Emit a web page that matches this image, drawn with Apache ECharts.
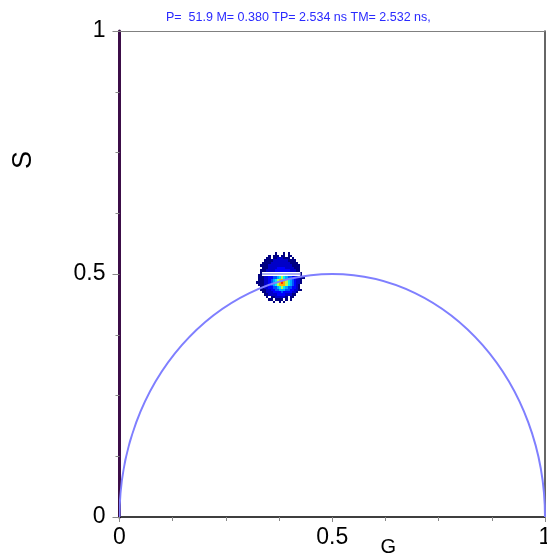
<!DOCTYPE html>
<html>
<head>
<meta charset="utf-8">
<script src="https://cdn.jsdelivr.net/npm/echarts@6/dist/echarts.min.js"></script>
<style>
  html, body { margin: 0; padding: 0; background: #fff; }
  #chart { width: 547px; height: 555px; }
</style>
</head>
<body>
<div id="chart"></div>
<script>
// Phasor plot: G / S coordinates with the universal semicircle and a 2D histogram of pixel phasors.
const titleText = 'P=  51.9 M= 0.380 TP= 2.534 ns TM= 2.532 ns,';
const gRange = [0, 1];
const sRange = [0, 1];
const tickStep = 0.5;

// Universal semicircle (centre and radius in phasor units)
const circleCenter = [0.5, 0];
const circleRadius = 0.5;

// Histogram bins of the phasor cluster: one string per S row (top row first),
// one character per G column; '.' = empty, 1..9 = count level.
const clusterG0 = 0.32;
const clusterSTop = 0.545;
const clusterBin = 0.005;
const clusterRows = [
  '.........1...1.1........',
  '......1.111.11.11.......',
  '.....11.11222111.1......',
  '....111122222221111.....',
  '...11112222222221111....',
  '..1111222222222221111...',
  '...111222233332222111...',
  '..1112222333333322211...',
  '..11122233344433322211..',
  '.111222334455544332211..',
  '.1112233445676544332211.',
  '.111223456788876543221..',
  '1111223456789876543221..',
  '.11122345678887654321...',
  '..1122334456765443321...',
  '..11122334455544332211..',
  '...11222333343333221....',
  '....112222333322211.....',
  '.....1.11222221.11......',
  '......11.1111.1.1.......',
  '........1..1.1..........'
];

// Empty row of bins at S = 0.5 across the cluster
const gapLine = [[0.335, 0.5], [0.425, 0.5]];

const levelColors = ['#ffffff', '#000080', '#0000c8', '#0000ff', '#0050ff',
                     '#00a8ff', '#00f0f0', '#b0ff50', '#ffb000', '#ff3000'];

const clusterData = [];
clusterRows.forEach(function (row, j) {
  for (let i = 0; i < row.length; i++) {
    const ch = row[i];
    if (ch === '.') continue;
    clusterData.push([clusterG0 + i * clusterBin, clusterSTop - (j + 1) * clusterBin, +ch]);
  }
});

const font = 'Liberation Sans, Arial, sans-serif';
const chart = echarts.init(document.getElementById('chart'), null, { renderer: 'canvas' });

chart.setOption({
  animation: false,
  backgroundColor: '#ffffff',
  title: {
    text: titleText,
    left: 166,
    top: 11,
    padding: 0,
    textStyle: { color: '#2a2aff', fontSize: 12.5, fontWeight: 'normal', fontFamily: font }
  },
  grid: { left: 119.5, right: 2, top: 31, bottom: 38, containLabel: false, outerBoundsMode: 'none' },
  xAxis: [{
    type: 'value',
    min: gRange[0], max: gRange[1], interval: tickStep,
    name: 'G',
    nameLocation: 'middle',
    nameGap: 20,
    nameMoveOverlap: false,
    nameTextStyle: { fontSize: 20, color: '#000', fontFamily: font, padding: [0, 0, 0, 112] },
    axisLine: { show: true, onZero: false, lineStyle: { color: '#000', width: 1.5 } },
    axisTick: { show: true, length: 5, lineStyle: { color: '#888' } },
    minorTick: { show: true, splitNumber: 4, length: 4, lineStyle: { color: '#888' } },
    axisLabel: { fontSize: 23, color: '#000', fontFamily: font, margin: 9 },
    splitLine: { show: false }
  }, {
    type: 'value', position: 'top',
    min: gRange[0], max: gRange[1],
    axisLine: { show: true, onZero: false, lineStyle: { color: '#808080', width: 1 } },
    axisTick: { show: false }, axisLabel: { show: false }, splitLine: { show: false }
  }],
  yAxis: [{
    type: 'value',
    min: sRange[0], max: sRange[1], interval: tickStep,
    name: 'S',
    nameLocation: 'middle',
    nameRotate: 90,
    nameGap: 82,
    nameMoveOverlap: false,
    nameTextStyle: { fontSize: 27, color: '#000', fontFamily: font, padding: [0, 0, 0, 228] },
    axisLine: { show: true, onZero: false, lineStyle: { color: '#3c0d48', width: 3 } },
    axisTick: { show: true, length: 7, lineStyle: { color: '#888' } },
    minorTick: { show: true, splitNumber: 4, length: 4, lineStyle: { color: '#888' } },
    axisLabel: { fontSize: 23, color: '#000', fontFamily: font, margin: 14 },
    splitLine: { show: false }
  }, {
    type: 'value', position: 'right',
    min: sRange[0], max: sRange[1],
    axisLine: { show: true, onZero: false, lineStyle: { color: '#333', width: 1.5 } },
    axisTick: { show: false }, axisLabel: { show: false }, splitLine: { show: false }
  }],
  series: [{
    name: 'cluster',
    type: 'custom',
    xAxisIndex: 0, yAxisIndex: 0,
    z: 2,
    data: clusterData,
    renderItem: function (params, api) {
      const g = api.value(0), s = api.value(1), lv = api.value(2);
      const p1 = api.coord([g, s + clusterBin]);
      const p2 = api.coord([g + clusterBin, s]);
      const x = Math.round(p1[0]), y = Math.round(p1[1]);
      return {
        type: 'rect',
        shape: { x: x, y: y, width: Math.round(p2[0]) - x, height: Math.round(p2[1]) - y },
        style: { fill: levelColors[lv] }
      };
    }
  }, {
    name: 'gap-white',
    type: 'line',
    z: 3,
    data: gapLine,
    symbol: 'none',
    silent: true,
    lineStyle: { color: '#ffffff', width: 4 }
  }, {
    name: 'gap',
    type: 'line',
    z: 4,
    data: gapLine,
    symbol: 'none',
    silent: true,
    lineStyle: { color: '#a8acf4', width: 2 }
  }, {
    name: 'semicircle',
    type: 'custom',
    z: 5,
    clip: true,
    data: [[circleCenter[0], circleCenter[1], circleRadius]],
    renderItem: function (params, api) {
      const c = api.coord([api.value(0), api.value(1)]);
      const r = api.size([api.value(2), api.value(2)]);
      return {
        type: 'ellipse',
        shape: { cx: c[0], cy: c[1], rx: r[0], ry: r[1] },
        style: { fill: 'none', stroke: '#7f7fff', lineWidth: 2 }
      };
    }
  }]
});
</script>
</body>
</html>
